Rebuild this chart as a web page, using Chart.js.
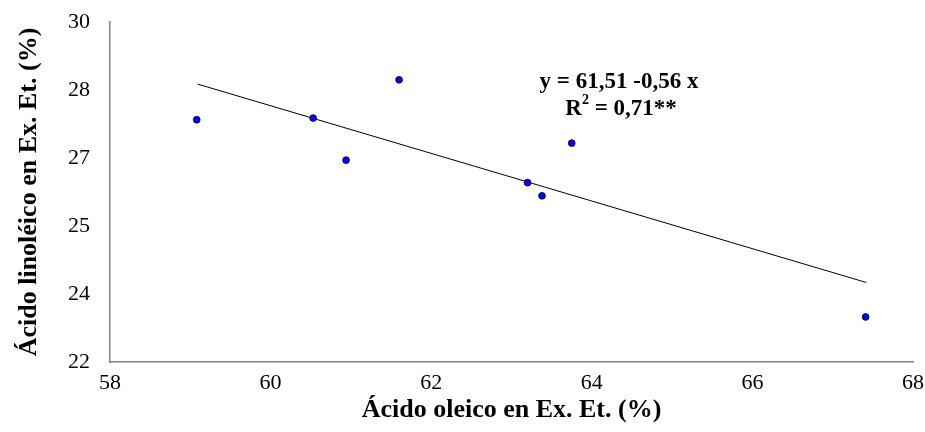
<!DOCTYPE html>
<html><head><meta charset="utf-8">
<script src="https://cdn.jsdelivr.net/npm/chart.js@4"></script>
<style>html,body{margin:0;padding:0;background:#fff}#wrap{width:925px;height:432px}</style>
</head><body><div id="wrap"><canvas id="c" width="925" height="432"></canvas></div>
<script>
const oleico = [59.08, 60.53, 60.94, 61.60, 63.20, 63.38, 63.75, 67.41];
const linoleico = [27.70, 27.74, 26.75, 28.64, 26.22, 25.91, 27.15, 23.06];
const trendX = [59.09, 67.42];
const trendY = [28.54, 23.87];
const xTicks = [58, 60, 62, 64, 66, 68];
const yTickValues = [22, 23.6, 25.2, 26.8, 28.4, 30];
const yTickLabels = ['22', '24', '25', '27', '28', '30'];
const eqLine1 = 'y = 61,51 -0,56 x';
const eqLine2a = 'R';
const eqLine2b = '2';
const eqLine2c = ' = 0,71**';

const serif = '"Liberation Serif", "Times New Roman", serif';

const eqPlugin = {
  id: 'eq',
  afterDraw(chart) {
    const ctx = chart.ctx;
    ctx.save();
    ctx.fillStyle = '#000';
    ctx.textBaseline = 'alphabetic';
    ctx.font = 'bold 23px ' + serif;
    ctx.textAlign = 'center';
    ctx.fillText(eqLine1, 619, 88);
    const wR = ctx.measureText(eqLine2a).width;
    const wC = ctx.measureText(eqLine2c).width;
    ctx.font = 'bold 14px ' + serif;
    const w2 = ctx.measureText(eqLine2b).width;
    const total = wR + w2 + wC;
    let x = 621 - total / 2;
    ctx.textAlign = 'left';
    ctx.font = 'bold 23px ' + serif;
    ctx.fillText(eqLine2a, x, 115);
    x += wR;
    ctx.font = 'bold 14px ' + serif;
    ctx.fillText(eqLine2b, x, 104);
    x += w2;
    ctx.font = 'bold 23px ' + serif;
    ctx.fillText(eqLine2c, x, 115);
    ctx.restore();
  }
};

new Chart(document.getElementById('c'), {
  type: 'scatter',
  data: {
    datasets: [
      {
        data: oleico.map((x, i) => ({x, y: linoleico[i]})),
        backgroundColor: '#0000ff',
        borderColor: '#000000',
        borderWidth: 0.8,
        pointRadius: 3.4,
        order: 1
      },
      {
        type: 'line',
        data: trendX.map((x, i) => ({x, y: trendY[i]})),
        borderColor: '#000000',
        borderWidth: 1,
        pointRadius: 0,
        fill: false,
        order: 2
      }
    ]
  },
  options: {
    responsive: false,
    animation: false,
    devicePixelRatio: 1,
    layout: { padding: { top: 22, right: 12, left: 0, bottom: 0 } },
    plugins: { legend: { display: false }, tooltip: { enabled: false } },
    scales: {
      x: {
        type: 'linear',
        min: 58, max: 68,
        afterBuildTicks(s) { s.ticks = xTicks.map(v => ({value: v})); },
        afterFit(s) { s.height = 70; s.paddingLeft = 0; s.paddingRight = 0; },
        grid: { display: false, drawOnChartArea: false, drawTicks: true, tickLength: 5, tickColor: '#808080' },
        border: { display: true, color: '#808080', width: 1.5 },
        ticks: { color: '#000', font: { family: serif, size: 22 }, padding: 3 },
        title: { display: true, text: 'Ácido oleico en Ex. Et. (%)', color: '#000', font: { family: serif, size: 26, weight: 'bold' }, padding: { top: 0, bottom: 6 } }
      },
      y: {
        type: 'linear',
        min: 22, max: 30,
        afterBuildTicks(s) { s.ticks = yTickValues.map(v => ({value: v})); },
        afterFit(s) { s.width = 110; s.paddingTop = 0; s.paddingBottom = 0; },
        grid: { display: false, drawOnChartArea: false, drawTicks: true, tickLength: 5, tickColor: '#808080' },
        border: { display: true, color: '#808080', width: 1.5 },
        ticks: { color: '#000', font: { family: serif, size: 22 }, padding: 15,
          callback(v, i) { return yTickLabels[i]; } },
        title: { display: true, text: 'Ácido linoléico en Ex. Et. (%)', color: '#000', font: { family: serif, size: 26, weight: 'bold' }, padding: { top: 14, bottom: 0 } }
      }
    }
  },
  plugins: [eqPlugin]
});
</script>
</body></html>
